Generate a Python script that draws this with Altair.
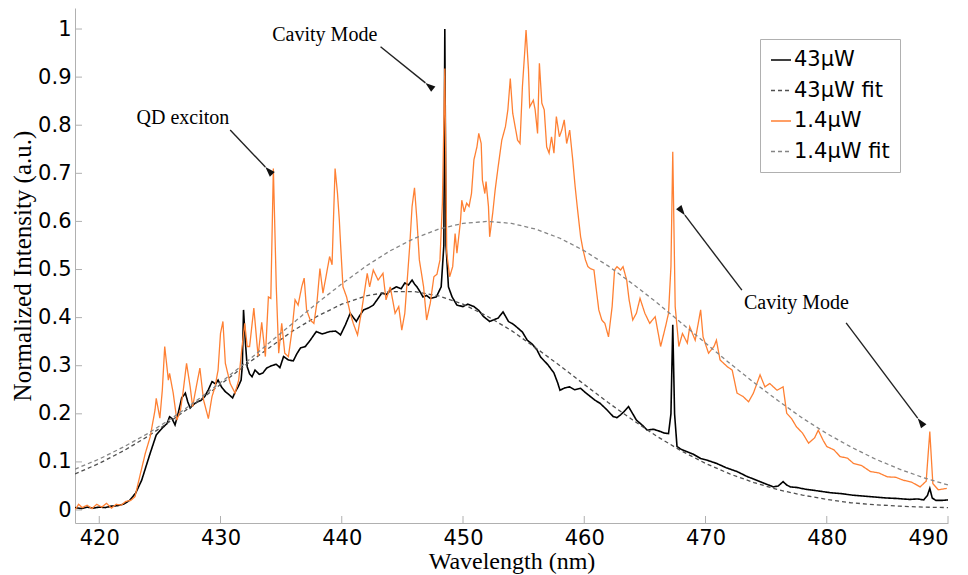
import math
import altair as alt
import pandas as pd

# ---------------- data ----------------
series_names = ["43μW", "43μW fit", "1.4μW", "1.4μW fit"]
series_colors = ["#000000", "#505050", "#ff8033", "#858585"]
series_dashes = [[1, 0], [4, 3], [1, 0], [4, 3]]

spec_43uW = [
    (418.0, 0.005), (418.5, 0.003), (419.0, 0.006), (419.5, 0.004), (420.0, 0.006),
    (420.5, 0.005), (421.0, 0.008), (421.5, 0.009), (422.0, 0.012),
    (422.5, 0.02), (423.0, 0.035), (423.5, 0.062), (424.2, 0.118), (424.7, 0.156),
    (425.0, 0.165), (425.3, 0.173), (425.6, 0.18), (425.8, 0.194), (426.0, 0.19),
    (426.25, 0.177), (426.5, 0.2), (426.8, 0.233), (427.1, 0.243), (427.3, 0.225),
    (427.5, 0.212), (427.8, 0.22), (428.1, 0.225), (428.4, 0.228), (428.7, 0.236),
    (429.0, 0.25), (429.3, 0.267), (429.6, 0.262), (429.8, 0.27), (430.1, 0.255),
    (430.4, 0.246), (430.7, 0.24), (431.0, 0.233), (431.2, 0.245), (431.45, 0.256),
    (431.7, 0.27), (431.8, 0.3), (431.9, 0.416),
    (432.05, 0.35), (432.2, 0.298), (432.4, 0.283), (432.6, 0.277), (432.85, 0.291),
    (433.2, 0.282), (433.5, 0.285), (433.8, 0.295), (434.2, 0.30), (434.6, 0.303),
    (434.9, 0.296), (435.2, 0.319), (435.6, 0.312), (436.0, 0.31), (436.3, 0.325),
    (436.6, 0.337), (437.0, 0.34), (437.4, 0.353), (437.9, 0.371), (438.4, 0.366),
    (439.0, 0.371), (439.5, 0.372), (439.9, 0.364), (440.3, 0.385), (440.7, 0.409),
    (441.2, 0.392), (441.5, 0.405), (441.8, 0.416), (442.2, 0.42), (442.6, 0.426),
    (443.0, 0.44), (443.3, 0.451), (443.7, 0.448), (444.0, 0.457), (444.5, 0.464),
    (444.9, 0.46), (445.2, 0.472), (445.5, 0.468), (445.8, 0.478), (446.0, 0.47),
    (446.2, 0.464), (446.5, 0.452), (446.7, 0.443), (447.0, 0.446), (447.3, 0.44),
    (447.8, 0.443), (448.2, 0.464), (448.42, 0.55), (448.5, 1.0), (448.6, 0.55),
    (448.8, 0.464), (449.1, 0.443), (449.5, 0.426), (450.0, 0.423), (450.4, 0.428),
    (450.9, 0.423), (451.3, 0.415), (451.7, 0.402), (452.2, 0.392), (452.6, 0.396),
    (452.9, 0.399), (453.3, 0.412), (453.75, 0.392), (454.1, 0.387),
    (454.4, 0.381), (454.9, 0.37), (455.3, 0.353), (455.7, 0.345), (456.1, 0.333),
    (456.4, 0.318), (457.0, 0.302), (457.5, 0.285), (457.8, 0.265),
    (458.0, 0.249), (458.4, 0.254), (458.8, 0.256), (459.2, 0.25), (459.7, 0.253),
    (460.1, 0.244), (460.5, 0.236), (460.9, 0.228), (461.3, 0.222), (461.8, 0.21),
    (462.4, 0.194), (462.7, 0.192), (463.0, 0.198), (463.3, 0.205), (463.65, 0.215),
    (464.0, 0.2), (464.3, 0.187), (464.8, 0.176), (465.2, 0.166), (465.7, 0.168),
    (466.3, 0.163), (466.6, 0.16), (466.95, 0.159), (467.15, 0.2), (467.3, 0.385), (467.45, 0.2),
    (467.65, 0.132), (468.0, 0.126), (468.5, 0.121), (469.0, 0.116), (469.6, 0.107),
    (470.2, 0.103), (470.9, 0.097), (471.7, 0.088), (472.6, 0.080), (473.4, 0.07),
    (474.2, 0.062), (474.9, 0.055), (475.6, 0.048), (476.0, 0.05), (476.4, 0.059),
    (476.7, 0.052), (477.0, 0.048), (477.5, 0.047), (478.3, 0.043), (479.2, 0.04),
    (480.3, 0.036), (481.2, 0.034), (482.1, 0.031), (483.0, 0.029), (484.0, 0.027),
    (484.9, 0.025), (485.8, 0.024), (486.8, 0.022), (487.5, 0.023), (488.0, 0.021),
    (488.3, 0.03), (488.5, 0.045), (488.7, 0.025), (489.0, 0.02), (489.5, 0.02),
    (490.0, 0.021),
]

fit_43uW = [
    (418, 0.075), (420, 0.097), (422, 0.123), (424, 0.153), (426, 0.187), (428, 0.223),
    (430, 0.261), (432, 0.300), (434, 0.337), (436, 0.373), (438, 0.403), (440, 0.428),
    (442, 0.445), (444, 0.454), (446, 0.454), (448, 0.445), (450, 0.428), (452, 0.403),
    (454, 0.373), (456, 0.337), (458, 0.300), (460, 0.261), (462, 0.223), (464, 0.187),
    (466, 0.153), (468, 0.123), (470, 0.097), (472, 0.075), (474, 0.057), (476, 0.042),
    (478, 0.031), (480, 0.022), (482, 0.015), (484, 0.011), (486, 0.008), (488, 0.006),
    (490, 0.005),
]

spec_1p4uW = [
    (418.0, 0.0), (418.3, 0.012), (418.6, 0.005), (419.0, 0.01), (419.4, 0.003),
    (419.8, 0.012), (420.2, 0.006), (420.6, 0.014), (421.0, 0.004), (421.4, 0.012),
    (421.8, 0.01), (422.2, 0.018), (422.6, 0.02), (422.95, 0.028), (423.4, 0.076),
    (423.8, 0.118), (424.2, 0.152), (424.6, 0.208), (424.7, 0.232), (425.0, 0.191),
    (425.2, 0.249), (425.4, 0.34), (425.7, 0.27), (425.8, 0.284), (426.1, 0.243),
    (426.4, 0.187), (426.7, 0.208), (426.9, 0.243), (427.2, 0.305), (427.5, 0.256),
    (427.7, 0.215), (428.0, 0.256), (428.3, 0.295), (428.6, 0.229), (429.0, 0.19),
    (429.3, 0.236), (429.55, 0.256), (429.8, 0.291), (430.0, 0.367), (430.2, 0.392),
    (430.4, 0.305), (430.8, 0.263), (431.2, 0.243), (431.5, 0.27), (431.75, 0.333),
    (432.0, 0.388), (432.2, 0.34), (432.4, 0.34), (432.75, 0.42), (433.1, 0.32),
    (433.4, 0.39), (433.7, 0.319), (433.95, 0.443), (434.15, 0.44), (434.36, 0.71),
    (434.6, 0.464), (434.8, 0.326), (435.05, 0.388), (435.3, 0.326), (435.6, 0.319),
    (435.9, 0.374), (436.15, 0.437), (436.4, 0.426), (436.7, 0.464), (436.9, 0.482),
    (437.1, 0.416), (437.4, 0.395), (437.7, 0.388), (437.95, 0.43), (438.2, 0.502),
    (438.45, 0.451), (438.7, 0.485), (439.0, 0.527), (439.2, 0.51), (439.45, 0.71),
    (439.65, 0.658), (439.8, 0.603), (439.9, 0.554), (440.1, 0.464), (440.4, 0.443),
    (440.7, 0.409), (440.95, 0.388), (441.3, 0.364), (441.65, 0.416), (442.1, 0.492),
    (442.3, 0.464), (442.6, 0.499), (443.0, 0.478), (443.4, 0.492), (443.65, 0.437),
    (444.0, 0.464), (444.4, 0.409), (444.7, 0.423), (444.95, 0.374), (445.2, 0.409),
    (445.6, 0.547), (445.8, 0.631), (446.0, 0.67), (446.2, 0.603), (446.4, 0.52),
    (446.75, 0.464), (447.0, 0.395), (447.3, 0.43), (447.6, 0.485), (447.85, 0.49),
    (448.1, 0.52), (448.3, 0.638), (448.5, 0.918), (448.66, 0.534), (448.9, 0.485),
    (449.15, 0.506), (449.35, 0.575), (449.5, 0.534), (449.8, 0.603), (449.9, 0.644),
    (450.1, 0.62), (450.3, 0.638), (450.5, 0.631), (450.7, 0.658), (450.9, 0.728),
    (451.15, 0.755), (451.3, 0.783), (451.5, 0.762), (451.6, 0.686), (451.8, 0.658),
    (451.9, 0.683), (452.1, 0.631), (452.2, 0.568), (452.45, 0.617), (452.65, 0.665),
    (452.9, 0.714), (453.2, 0.769), (453.5, 0.797), (453.7, 0.832), (453.9, 0.897),
    (454.1, 0.825), (454.3, 0.797), (454.5, 0.769), (454.7, 0.762), (454.9, 0.88),
    (455.1, 0.956), (455.2, 0.998), (455.4, 0.915), (455.5, 0.838), (455.8, 0.852),
    (455.95, 0.832), (456.15, 0.783), (456.3, 0.929), (456.5, 0.846), (456.7, 0.832),
    (456.9, 0.755), (457.1, 0.742), (457.3, 0.776), (457.5, 0.742), (457.7, 0.818),
    (457.95, 0.776), (458.15, 0.79), (458.35, 0.811), (458.55, 0.762), (458.8, 0.79),
    (459.05, 0.728), (459.25, 0.672), (459.45, 0.624), (459.7, 0.568), (459.9, 0.541),
    (460.1, 0.52), (460.3, 0.506), (460.5, 0.502), (460.8, 0.499), (461.0, 0.457),
    (461.2, 0.416), (461.45, 0.395), (461.7, 0.388), (462.0, 0.36), (462.3, 0.423),
    (462.5, 0.499), (462.7, 0.506), (463.0, 0.499), (463.2, 0.506), (463.5, 0.478),
    (463.7, 0.437), (464.0, 0.395), (464.3, 0.409), (464.6, 0.44), (465.0, 0.409),
    (465.4, 0.388), (465.85, 0.402), (466.3, 0.34), (466.7, 0.381), (466.95, 0.409),
    (467.15, 0.506), (467.3, 0.745), (467.5, 0.423), (467.8, 0.34), (468.1, 0.367),
    (468.5, 0.347), (468.7, 0.381), (469.15, 0.353), (469.6, 0.416), (469.8, 0.36),
    (470.25, 0.326), (470.7, 0.34), (470.9, 0.353), (471.2, 0.312), (471.8, 0.298),
    (472.2, 0.291), (472.6, 0.243), (473.1, 0.236), (473.55, 0.225), (473.95, 0.243),
    (474.5, 0.281), (474.9, 0.256), (475.3, 0.263), (475.9, 0.249), (476.4, 0.256),
    (476.7, 0.201), (477.1, 0.19), (477.5, 0.173), (478.0, 0.16), (478.5, 0.139),
    (479.0, 0.15), (479.3, 0.166), (479.7, 0.145), (480.0, 0.132), (480.6, 0.125),
    (481.1, 0.111), (481.7, 0.108), (482.2, 0.097), (482.9, 0.092), (483.6, 0.08),
    (484.3, 0.077), (485.0, 0.069), (485.7, 0.068), (486.3, 0.062), (487.0, 0.058),
    (487.7, 0.048), (488.2, 0.06), (488.5, 0.163), (488.75, 0.055), (489.2, 0.042),
    (489.9, 0.045),
]

fit_1p4uW = [
    (418, 0.085), (420, 0.106), (422, 0.131), (424, 0.159), (426, 0.191), (428, 0.227),
    (430, 0.265), (432, 0.305), (434, 0.347), (436, 0.389), (438, 0.431), (440, 0.470),
    (442, 0.507), (444, 0.539), (446, 0.565), (448, 0.584), (450, 0.596), (452, 0.600),
    (454, 0.596), (456, 0.584), (458, 0.565), (460, 0.539), (462, 0.507), (464, 0.470),
    (466, 0.431), (468, 0.389), (470, 0.347), (472, 0.305), (474, 0.265), (476, 0.227),
    (478, 0.191), (480, 0.159), (482, 0.131), (484, 0.106), (486, 0.085), (488, 0.067),
    (490, 0.052),
]

x_ticks = [420, 430, 440, 450, 460, 470, 480, 490]
y_ticks = [0, 0.1, 0.2, 0.3, 0.4, 0.5, 0.6, 0.7, 0.8, 0.9, 1]

ann_text = ["QD exciton", "Cavity Mode", "Cavity Mode"]
ann_x = [426.9, 438.6, 477.5]
ann_y = [0.815, 0.988, 0.430]

arrow_tail_x = [430.8, 443.2, 473.0, 481.6]
arrow_tail_y = [0.790, 0.963, 0.457, 0.389]
arrow_head_x = [433.7, 446.9, 468.3, 487.5]
arrow_head_y = [0.713, 0.888, 0.613, 0.191]

# ---------------- chart ----------------
W, H = 873, 515
X0, X1 = 418, 490
Y0, Y1 = -0.027, 1.0437
SANS = "DejaVu Sans"
SERIF = "Liberation Serif"

rows = []
for name, pts in zip(series_names, [spec_43uW, fit_43uW, spec_1p4uW, fit_1p4uW]):
    for x, y in pts:
        rows.append({"series": name, "wl": x, "val": y})
df = pd.DataFrame(rows)

xscale = alt.Scale(domain=[X0, X1], nice=False, zero=False)
yscale = alt.Scale(domain=[Y0, Y1], nice=False, zero=False)
cscale = alt.Scale(domain=series_names, range=series_colors)
dscale = alt.Scale(domain=series_names, range=series_dashes)

legend = alt.Legend(
    orient="none", legendX=685, legendY=31, title=None,
    symbolType="stroke", symbolSize=400, symbolStrokeWidth=1.4,
    labelFont=SANS, labelFontSize=21, labelColor="black",
    labelOffset=2, strokeColor="#b0b0b0", fillColor="white",
    padding=10, rowPadding=9.5, labelLimit=300,
)

xaxis = alt.Axis(values=x_ticks, format="d", title="Wavelength (nm)",
                 ticks=False, labelPadding=4, titleFontSize=24,
                 titleY=45, titleBaseline="alphabetic")
yaxis = alt.Axis(values=y_ticks, format="~g", title="Normalized Intensity (a.u.)",
                 ticks=False, labelPadding=4, titlePadding=2, titleFontSize=25)


def X(field):
    return alt.X(field, type="quantitative", scale=xscale, axis=xaxis)


def Y(field):
    return alt.Y(field, type="quantitative", scale=yscale, axis=yaxis)


widths = {"43μW": 1.6, "43μW fit": 1.3, "1.4μW": 1.3, "1.4μW fit": 1.3}
layers = []
for name in series_names:
    layers.append(
        alt.Chart(df).transform_filter(alt.datum.series == name)
        .mark_line(strokeWidth=widths[name], clip=True)
        .encode(
            x=X("wl"),
            y=Y("val"),
            color=alt.Color("series:N", scale=cscale, legend=legend),
            strokeDash=alt.StrokeDash("series:N", scale=dscale, legend=legend),
        )
    )

# inward ticks
xt = alt.Chart(pd.DataFrame({"t": x_ticks})).mark_rule(color="#b0b0b0", strokeWidth=1).encode(
    x=X("t"), y=alt.value(H), y2=alt.value(H - 7))
yt = alt.Chart(pd.DataFrame({"t": y_ticks})).mark_rule(color="#b0b0b0", strokeWidth=1).encode(
    y=Y("t"), x=alt.value(0), x2=alt.value(7))

# annotations
px_nm = W / (X1 - X0)
px_val = H / (Y1 - Y0)
angles = []
for tx, ty, hx, hy in zip(arrow_tail_x, arrow_tail_y, arrow_head_x, arrow_head_y):
    dx = (hx - tx) * px_nm
    dy = -(hy - ty) * px_val
    a = math.degrees(math.atan2(dx, -dy))
    angles.append((a + 180) % 360)

arr_df = pd.DataFrame({"tx": arrow_tail_x, "ty": arrow_tail_y,
                       "hx": arrow_head_x, "hy": arrow_head_y, "ang": angles})
shafts = alt.Chart(arr_df).mark_rule(color="#222222", strokeWidth=1.4).encode(
    x=X("tx"), y=Y("ty"), x2="hx:Q", y2="hy:Q")
heads = alt.Chart(arr_df).mark_point(
    shape="M 0 0 L -0.42 1.25 L 0.42 1.25 Z", filled=True, color="#111111",
    size=260, opacity=1, strokeWidth=0).encode(
    x=X("hx"), y=Y("hy"), angle=alt.Angle("ang:Q", scale=None))

texts = alt.Chart(pd.DataFrame({"t": ann_text, "x": ann_x, "y": ann_y})).mark_text(
    font=SERIF, fontSize=20, color="black", align="center", baseline="middle").encode(
    x=X("x"), y=Y("y"), text="t:N")

chart = alt.layer(*layers, xt, yt, shafts, heads, texts).properties(
    width=W, height=H,
    autosize=alt.AutoSizeParams(type="none"),
    padding={"left": 67, "top": 0, "right": 12, "bottom": 52},
).configure_view(stroke=None).configure_axis(
    domainColor="#b0b0b0", domainWidth=1, grid=False,
    labelFont=SANS, labelFontSize=21, labelColor="black",
    titleFont=SERIF, titleFontWeight="normal", titleColor="black",
)

chart.save("out.html", embed_options={"renderer": "svg", "actions": False})
